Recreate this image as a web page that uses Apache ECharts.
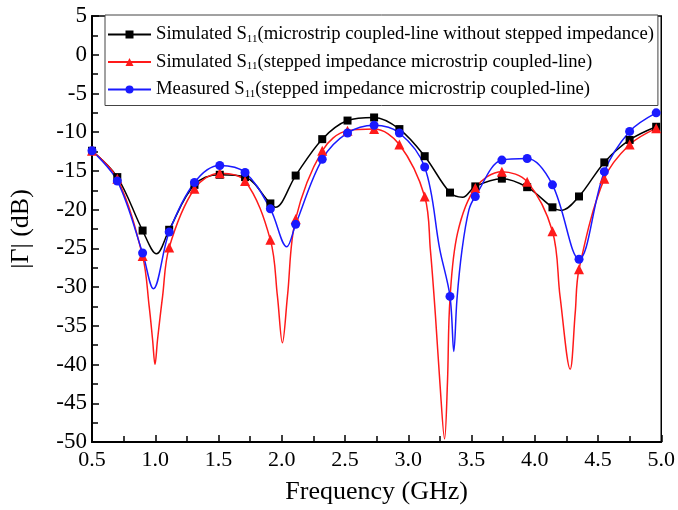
<!DOCTYPE html>
<html><head><meta charset="utf-8">
<script src="https://cdn.jsdelivr.net/npm/echarts@6/dist/echarts.min.js"></script>
<style>html,body{margin:0;padding:0;background:#fff}#c{width:678px;height:510px}</style>
</head><body><div id="c"></div>
<script>
// marker frequencies (GHz) shared by all three curves
const xMarks = [0.5, 0.7, 0.9, 1.11, 1.31, 1.51, 1.71, 1.91, 2.11, 2.32, 2.52, 2.73, 2.93, 3.13, 3.33, 3.53, 3.74, 3.94, 4.14, 4.35, 4.55, 4.75, 4.96];
// Simulated S11 (without stepped impedance) - black squares
const blackMarks = [-12.4, -15.8, -22.7, -22.6, -16.8, -15.5, -15.8, -19.2, -15.6, -10.9, -8.5, -8.1, -9.6, -13.1, -17.8, -17.0, -16.0, -17.1, -19.7, -18.3, -13.9, -11.0, -9.3];
const blackCurveX = [1.01, 1.95, 3.43, 4.21];
const blackCurveY = [-25.7, -19.7, -18.4, -20.1];
// Simulated S11 (stepped impedance) - red triangles (null = marker hidden)
const redMarks = [-12.4, -16.0, -26.0, -24.9, -17.3, -15.3, -16.3, -23.9, -21.2, -12.4, -9.8, -9.6, -11.6, -18.3, null, -17.2, -15.1, -16.4, -22.8, -27.7, -16.0, -11.6, -9.5];
const redCurveX = [0.952, 0.979, 0.998, 1.018, 1.058, 1.966, 2.005, 2.045, 3.175, 3.215, 3.25, 3.287, 3.31, 3.33, 3.39, 4.2, 4.28, 4.32];
const redCurveY = [-32.5, -36.8, -40.0, -36.8, -31.2, -31.2, -37.2, -31.2, -25.2, -33.7, -42.3, -49.6, -42.3, -31.5, -23.0, -31.2, -40.6, -33.3];
// Measured S11 - blue circles
const blueMarks = [-12.4, -16.3, -25.6, -22.9, -16.5, -14.3, -15.2, -19.9, -21.9, -13.5, -10.1, -9.1, -10.1, -14.5, -31.2, -18.3, -13.6, -13.4, -16.8, -26.4, -15.1, -9.9, -7.5];
const blueCurveX = [0.985, 2.04, 3.25, 3.36, 3.385, 3.425, 3.48];
const blueCurveY = [-30.2, -24.8, -25.2, -38.3, -31.6, -25.2, -20.0];

const names = [
  'Simulated S11(microstrip coupled-line without stepped impedance)',
  'Simulated S11(stepped impedance microstrip coupled-line)',
  'Measured S11(stepped impedance microstrip coupled-line)'
];

function build(marks, cx, cy) {
  const pts = [];
  xMarks.forEach((x, i) => { if (marks[i] !== null) pts.push({ value: [x, marks[i]] }); });
  cx.forEach((x, i) => pts.push({ value: [x, cy[i]], symbol: 'none' }));
  pts.sort((a, b) => a.value[0] - b.value[0]);
  return pts;
}

const FONT = "'Liberation Serif', 'Times New Roman', serif";
const chart = echarts.init(document.getElementById('c'), null, { renderer: 'canvas' });

function mkSeries(name, color, symbol, size, data) {
  return {
    name: name, type: 'line', data: data, smooth: 0.35,
    symbol: symbol, symbolSize: size, showAllSymbol: true,
    lineStyle: { color: color, width: 1.5 },
    itemStyle: { color: color },
    emphasis: { disabled: true }, animation: false
  };
}

chart.setOption({
  animation: false,
  grid: { left: 91, right: 16, top: 16, bottom: 67, show: true, borderColor: '#000', borderWidth: 1.5, backgroundColor: 'transparent' },
  legend: {
    orient: 'vertical', left: 105, top: 15, width: 560,
    padding: [10, 4, 6, 2], itemGap: 8, itemWidth: 43, itemHeight: 10,
    backgroundColor: '#fff', borderColor: '#444', borderWidth: 1, borderRadius: 0,
    data: names,
    formatter: function (n) {
      const i = n.indexOf('S11');
      return '{t|' + n.slice(0, i + 1) + '}{s|11}{t|' + n.slice(i + 3) + '}';
    },
    textStyle: {
      fontFamily: FONT, fontSize: 18.7, color: '#000',
      rich: {
        t: { fontFamily: FONT, fontSize: 18.7, color: '#000', lineHeight: 20 },
        s: { fontFamily: FONT, fontSize: 11, color: '#000', lineHeight: 20, verticalAlign: 'bottom' }
      }
    }
  },
  xAxis: {
    type: 'value', min: 0.5, max: 5.0, interval: 0.5,
    name: 'Frequency (GHz)', nameLocation: 'middle', nameGap: 37,
    nameTextStyle: { fontFamily: FONT, fontSize: 26, color: '#000' },
    axisLine: { onZero: false, lineStyle: { color: '#000', width: 2 } },
    axisTick: { inside: true, length: 7, lineStyle: { color: '#000', width: 1.5 } },
    minorTick: { show: true, splitNumber: 2, length: 6, lineStyle: { color: '#000', width: 1.5 } },
    axisLabel: { fontFamily: FONT, fontSize: 22, color: '#000', margin: 7, formatter: v => v.toFixed(1) },
    splitLine: { show: false }
  },
  yAxis: {
    type: 'value', min: -50, max: 5, interval: 5,
    name: '|Γ| (dB)', nameLocation: 'middle', nameGap: 58,
    nameTextStyle: { fontFamily: FONT, fontSize: 26, color: '#000' },
    axisLine: { onZero: false, lineStyle: { color: '#000', width: 2 } },
    axisTick: { inside: true, length: 7, lineStyle: { color: '#000', width: 1.5 } },
    minorTick: { show: true, splitNumber: 2, length: 6, lineStyle: { color: '#000', width: 1.5 } },
    axisLabel: { fontFamily: FONT, fontSize: 23, color: '#000', margin: 5 },
    splitLine: { show: false }
  },
  series: [
    mkSeries(names[0], '#000000', 'rect', 8, build(blackMarks, blackCurveX, blackCurveY)),
    mkSeries(names[1], '#ff1a1a', 'triangle', 10, build(redMarks, redCurveX, redCurveY)),
    mkSeries(names[2], '#1a1aff', 'circle', 9, build(blueMarks, blueCurveX, blueCurveY))
  ]
});
</script></body></html>
